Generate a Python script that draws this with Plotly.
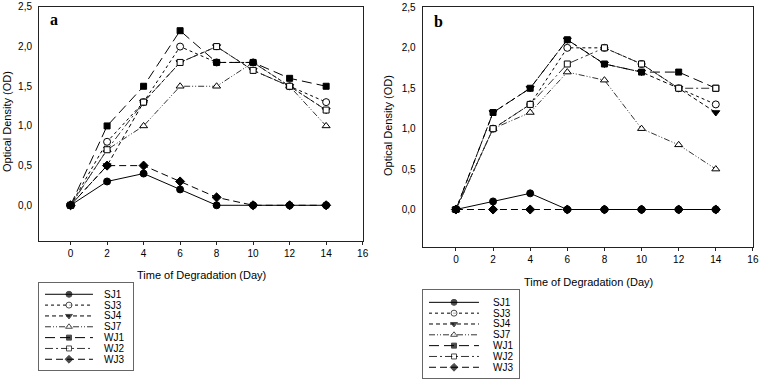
import plotly.graph_objects as go

days = [0, 2, 4, 6, 8, 10, 12, 14]
series_names = ["SJ1", "SJ3", "SJ4", "SJ7", "WJ1", "WJ2", "WJ3"]

# Panel a
a_sj1 = [0, 0.3, 0.4, 0.2, 0.0, 0.0, 0.0, 0.0]
a_sj3 = [0, 0.8, 1.3, 2.0, 1.8, 1.8, 1.5, 1.3]
a_sj4 = [0, 0.5, 1.3, 1.8, 2.0, 1.7, 1.5, 1.2]
a_sj7 = [0, 0.7, 1.0, 1.5, 1.5, 1.8, 1.5, 1.0]
a_wj1 = [0, 1.0, 1.5, 2.2, 1.8, 1.8, 1.6, 1.5]
a_wj2 = [0, 0.7, 1.3, 1.8, 2.0, 1.7, 1.5, 1.2]
a_wj3 = [0, 0.5, 0.5, 0.3, 0.1, 0.0, 0.0, 0.0]

# Panel b
b_sj1 = [0, 0.1, 0.2, 0.0, 0.0, 0.0, 0.0, 0.0]
b_sj3 = [0, 1.0, 1.3, 2.0, 2.0, 1.8, 1.5, 1.3]
b_sj4 = [0, 1.2, 1.5, 2.1, 1.8, 1.7, 1.5, 1.2]
b_sj7 = [0, 1.0, 1.2, 1.7, 1.6, 1.0, 0.8, 0.5]
b_wj1 = [0, 1.2, 1.5, 2.1, 1.8, 1.7, 1.7, 1.5]
b_wj2 = [0, 1.0, 1.3, 1.8, 2.0, 1.8, 1.5, 1.5]
b_wj3 = [0, 0.0, 0.0, 0.0, 0.0, 0.0, 0.0, 0.0]

panel_a = [a_sj1, a_sj3, a_sj4, a_sj7, a_wj1, a_wj2, a_wj3]
panel_b = [b_sj1, b_sj3, b_sj4, b_sj7, b_wj1, b_wj2, b_wj3]

styles = {
    "SJ1": dict(dash="solid", symbol="circle", fill="black", color="black", size=7),
    "SJ3": dict(dash="dot", symbol="circle", fill="white", color="black", size=7),
    "SJ4": dict(dash="4px,3px", symbol="triangle-down", fill="black", color="black", size=7),
    "SJ7": dict(dash="6px,2px,1px,2px,1px,2px", symbol="triangle-up", fill="white", color="#333", size=7),
    "WJ1": dict(dash="10px,5px", symbol="square", fill="black", color="black", size=6),
    "WJ2": dict(dash="8px,3px,2px,3px", symbol="square", fill="white", color="#333", size=6),
    "WJ3": dict(dash="7px,4px", symbol="diamond", fill="black", color="black", size=7),
}

fig = go.Figure()

def add_series(data, xa, ya):
    for name, vals in zip(series_names, data):
        s = styles[name]
        fig.add_trace(go.Scatter(
            x=days, y=vals, mode="lines+markers", name=name, showlegend=False,
            xaxis=xa, yaxis=ya,
            line=dict(color=s["color"], width=1, dash=s["dash"]),
            marker=dict(symbol=s["symbol"], size=s["size"], color=s["fill"],
                        line=dict(color="black", width=1)),
        ))

add_series(panel_a, "x", "y")
add_series(panel_b, "x2", "y2")

# hand-built legends (one per panel)
LEG_X = {"x3": (0.064, 0.319, 0.574, 0.67), "x4": (0.0625, 0.323, 0.583, 0.708)}
annotations = []
for xa, ya in (("x3", "y3"), ("x4", "y4")):
    x0, xm, x1, xt = LEG_X[xa]
    for i, name in enumerate(series_names):
        s = styles[name]
        fig.add_trace(go.Scatter(
            x=[x0, xm, x1], y=[i, i, i], mode="lines+markers", showlegend=False,
            xaxis=xa, yaxis=ya, hoverinfo="skip",
            line=dict(color=s["color"], width=1, dash=s["dash"]),
            marker=dict(symbol=s["symbol"], size=[0, s["size"] - 1, 0], color=s["fill"],
                        line=dict(color="black", width=[0, 1, 0])),
        ))
        annotations.append(dict(x=xt, y=i, xref=xa, yref=ya, text=name, showarrow=False,
                                xanchor="left", yanchor="middle",
                                font=dict(family="Liberation Sans, Arial", size=10, color="black")))

W, H = 759, 379
font = dict(family="Liberation Sans, Arial", size=10, color="black")

def xax(l, r, rng, tl):
    return dict(domain=[l / W, r / W], range=rng, tick0=0, dtick=2, showgrid=False, zeroline=False,
                showline=True, linecolor="#222", linewidth=1, mirror=True, automargin=False,
                ticks="outside", ticklen=tl, tickcolor="#222", tickwidth=1, tickfont=font,
                ticklabeloverflow="allow")

def yax(b, t, rng, xa):
    return dict(domain=[1 - b / H, 1 - t / H], range=rng, dtick=0.5, tick0=0, tickformat=".1f",
                showgrid=False, zeroline=False, showline=True, linecolor="#222", linewidth=1,
                mirror=True, ticks="outside", ticklen=4, tickcolor="rgba(0,0,0,0)",
                tickfont=font, anchor=xa, ticklabeloverflow="allow", automargin=False)

def legax(l, r):
    return dict(domain=[l / W, r / W], range=[0, 1], showgrid=False, zeroline=False, automargin=False,
                showticklabels=False, ticks="", showline=True, linecolor="#666", mirror=True)

def legyax(b, t, rng, xa):
    return dict(domain=[1 - b / H, 1 - t / H], range=rng, showgrid=False, zeroline=False,
                showticklabels=False, ticks="", showline=True, linecolor="#666", mirror=True,
                anchor=xa, automargin=False)

title_font = dict(family="Liberation Sans, Arial", size=11, color="black")
label_font = dict(family="Liberation Serif, Times New Roman", size=16, color="black")

annotations += [
    dict(x=201 / W, y=1 - 275 / H, xref="paper", yref="paper", text="Time of Degradation (Day)",
         showarrow=False, xanchor="center", yanchor="middle", font=title_font),
    dict(x=588 / W, y=1 - 281.5 / H, xref="paper", yref="paper", text="Time of Degradation (Day)",
         showarrow=False, xanchor="center", yanchor="middle", font=title_font),
    dict(x=7 / W, y=1 - 122 / H, xref="paper", yref="paper", text="Optical Density (OD)",
         showarrow=False, textangle=-90, xanchor="center", yanchor="middle", font=title_font),
    dict(x=388 / W, y=1 - 126 / H, xref="paper", yref="paper", text="Optical Density (OD)",
         showarrow=False, textangle=-90, xanchor="center", yanchor="middle", font=title_font),
    dict(x=53.5 / W, y=1 - 19 / H, xref="paper", yref="paper", text="<b>a</b>",
         showarrow=False, xanchor="center", yanchor="middle", font=label_font),
    dict(x=438.5 / W, y=1 - 21 / H, xref="paper", yref="paper", text="<b>b</b>",
         showarrow=False, xanchor="center", yanchor="middle", font=label_font),
]

fig.update_layout(
    width=W, height=H, margin=dict(l=0, r=0, t=0, b=0, autoexpand=False),
    paper_bgcolor="white", plot_bgcolor="white", separators=",.",
    font=font,
    xaxis=xax(39, 363, [-1.73, 16.02], 3),
    yaxis=yax(241, 6.5, [-0.45, 2.505], "x"),
    xaxis2=xax(422.7, 753.3, [-1.79, 16.02], 3),
    yaxis2=yax(246.7, 7, [-0.46, 2.505], "x2"),
    xaxis3=legax(39, 133),
    yaxis3=legyax(370, 283, [6.99, -1.04], "x3"),
    xaxis4=legax(423, 519),
    yaxis4=legyax(378, 290, [6.99, -1.14], "x4"),
    annotations=annotations,
)
fig.update_layout(yaxis2_anchor="x2", xaxis_anchor="y", xaxis2_anchor="y2",
                  xaxis3_anchor="y3", xaxis4_anchor="y4")

fig.write_html("out.html", config={"displayModeBar": False},
               post_script="document.body.style.margin='0px';document.body.style.overflow='hidden';")
